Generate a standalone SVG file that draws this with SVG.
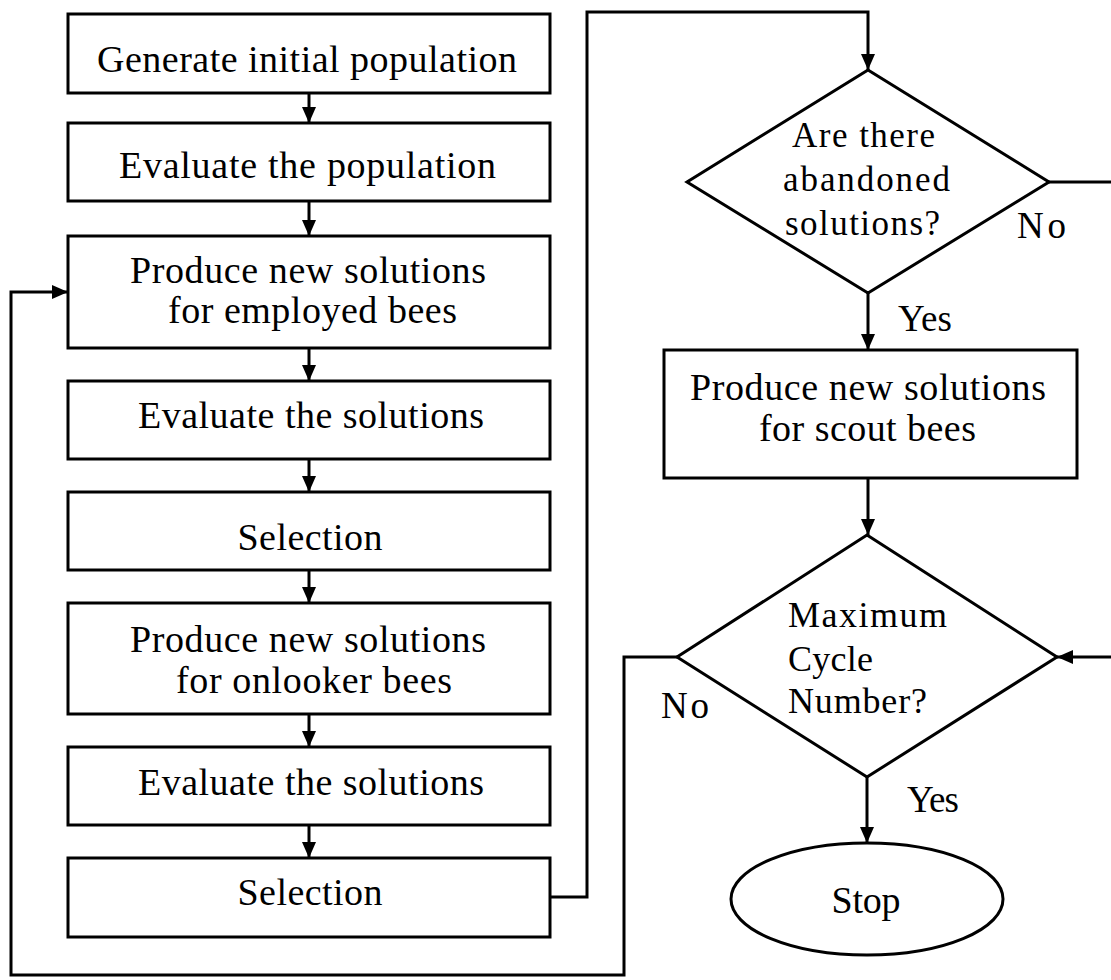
<svg xmlns="http://www.w3.org/2000/svg" width="1111" height="980" viewBox="0 0 1111 980">
<defs>
<marker id="ah" viewBox="0 0 16 14" refX="16" refY="7" markerWidth="16" markerHeight="14" markerUnits="userSpaceOnUse" orient="auto">
<path d="M0,0 L16,7 L0,14 Z" fill="#000"/>
</marker>
<style>
.box{fill:#fff;stroke:#000;stroke-width:3}
.t{font-family:"Liberation Serif",serif;font-size:38px;fill:#000;text-anchor:middle}
.l{font-family:"Liberation Serif",serif;font-size:37px;fill:#000}
.d1{font-family:"Liberation Serif",serif;font-size:35px;fill:#000}
.d2{font-family:"Liberation Serif",serif;font-size:36px;fill:#000}
.c{fill:none;stroke:#000;stroke-width:3}
</style>
</defs>
<rect width="1111" height="980" fill="#fff"/>
<g id="connectors">
<path class="c" d="M309,93 V123" marker-end="url(#ah)"/>
<path class="c" d="M309,201 V236" marker-end="url(#ah)"/>
<path class="c" d="M309,348 V381" marker-end="url(#ah)"/>
<path class="c" d="M309,459 V492" marker-end="url(#ah)"/>
<path class="c" d="M309,570 V603" marker-end="url(#ah)"/>
<path class="c" d="M309,714 V747" marker-end="url(#ah)"/>
<path class="c" d="M309,825 V858" marker-end="url(#ah)"/>
<path class="c" d="M550,897 H587 V12 H868 V70" marker-end="url(#ah)"/>
<path class="c" d="M868,293 V350" marker-end="url(#ah)"/>
<path class="c" d="M868,478 V535" marker-end="url(#ah)"/>
<path class="c" d="M867,777 V843" marker-end="url(#ah)"/>
<path class="c" d="M1049,182 H1116 V657 H1057" marker-end="url(#ah)"/>
<path class="c" d="M677,657 H624 V975 H11 V292 H68" marker-end="url(#ah)"/>
<text class="l" x="1017" y="238" textLength="49" lengthAdjust="spacing">No</text>
<text class="l" x="898" y="331" textLength="54" lengthAdjust="spacing">Yes</text>
<text class="l" x="661" y="718" textLength="48" lengthAdjust="spacing">No</text>
<text class="l" x="907" y="812" textLength="52" lengthAdjust="spacing">Yes</text>
</g>
<g id="n1"><rect class="box" x="68" y="14" width="482" height="79"/><text class="t" x="307" y="72" textLength="420" lengthAdjust="spacing">Generate initial population</text></g>
<g id="n2"><rect class="box" x="68" y="123" width="482" height="78"/><text class="t" x="307.5" y="178" textLength="377" lengthAdjust="spacing">Evaluate the population</text></g>
<g id="n3"><rect class="box" x="68" y="236" width="482" height="112"/><text class="t" x="308" y="283" textLength="356" lengthAdjust="spacing">Produce new solutions</text><text class="t" x="312.5" y="323" textLength="289" lengthAdjust="spacing">for employed bees</text></g>
<g id="n4"><rect class="box" x="68" y="381" width="482" height="78"/><text class="t" x="311" y="428" textLength="346" lengthAdjust="spacing">Evaluate the solutions</text></g>
<g id="n5"><rect class="box" x="68" y="492" width="482" height="78"/><text class="t" x="310" y="550" textLength="145" lengthAdjust="spacing">Selection</text></g>
<g id="n6"><rect class="box" x="68" y="603" width="482" height="111"/><text class="t" x="308" y="652" textLength="356" lengthAdjust="spacing">Produce new solutions</text><text class="t" x="314" y="693" textLength="276" lengthAdjust="spacing">for onlooker bees</text></g>
<g id="n7"><rect class="box" x="68" y="747" width="482" height="78"/><text class="t" x="311" y="795" textLength="346" lengthAdjust="spacing">Evaluate the solutions</text></g>
<g id="n8"><rect class="box" x="68" y="858" width="482" height="79"/><text class="t" x="310" y="905" textLength="145" lengthAdjust="spacing">Selection</text></g>
<g id="d1"><polygon class="box" points="868,70 1049,182 868,293 687,182"/><text class="d1" x="792" y="147" textLength="143" lengthAdjust="spacing">Are there</text><text class="d1" x="783" y="191" textLength="167" lengthAdjust="spacing">abandoned</text><text class="d1" x="785" y="235" textLength="155" lengthAdjust="spacing">solutions?</text></g>
<g id="n9"><rect class="box" x="664" y="350" width="413" height="128"/><text class="t" x="868" y="400" textLength="356" lengthAdjust="spacing">Produce new solutions</text><text class="t" x="867.5" y="441" textLength="217" lengthAdjust="spacing">for scout bees</text></g>
<g id="d2"><polygon class="box" points="867,535 1057,657 867,777 677,657"/><text class="d2" x="788" y="627" textLength="159" lengthAdjust="spacing">Maximum</text><text class="d2" x="788" y="671" textLength="85" lengthAdjust="spacing">Cycle</text><text class="d2" x="788" y="713" textLength="139" lengthAdjust="spacing">Number?</text></g>
<g id="stop"><ellipse class="box" cx="867" cy="899" rx="136" ry="56"/><text class="t" x="866" y="913" textLength="69" lengthAdjust="spacing">Stop</text></g>
</svg>
